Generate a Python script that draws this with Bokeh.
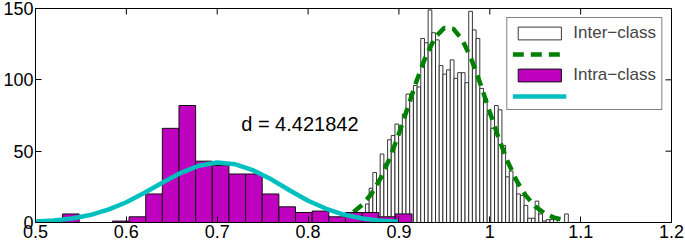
import math
from bokeh.plotting import figure
from bokeh.models import Range1d, FixedTicker, Legend, LegendItem, Label
from bokeh.embed import file_html
from bokeh.resources import INLINE

# ---- data ----
# Inter-class histogram (narrow bins)
inter_start = 0.8469
inter_width = 0.00406
inter_counts = [0, 1, 3, 6, 13, 24, 35, 28, 48, 41,
                58, 61, 69, 66, 76, 90, 90, 96, 95, 129,
                126, 149, 133, 128, 110, 104, 107, 114, 101, 105,
                105, 98, 148, 135, 129, 94, 87, 76, 66, 82,
                79, 54, 32, 36, 30, 20, 19, 12, 3, 3,
                15, 6, 1, 2, 2, 2, 0, 0, 6]

# Intra-class histogram (wide bins)
intra_start = 0.5297
intra_width = 0.01832
intra_counts = [6, 0, 0, 1, 4, 20, 66, 82, 43, 40,
                34, 34, 20, 11, 7, 8, 4, 7, 7, 4, 6]

# Fitted curves
inter_fit_x = [0.85, 0.86, 0.87, 0.88, 0.89, 0.90, 0.91, 0.92, 0.93, 0.94,
               0.95, 0.96, 0.97, 0.98, 0.99, 1.00, 1.01, 1.02, 1.03, 1.04,
               1.05, 1.06, 1.07, 1.08]
inter_fit_y = [7.4, 12.6, 20.3, 31.2, 45.3, 62.3, 81.2, 100.2, 117.2, 129.9,
               136.4, 135.7, 127.8, 114.1, 96.5, 77.3, 58.7, 42.2, 28.7, 18.5,
               11.3, 6.6, 3.6, 1.9]

intra_fit_x = [0.50, 0.52, 0.54, 0.56, 0.58, 0.60, 0.62, 0.64, 0.66, 0.68,
               0.70, 0.72, 0.74, 0.76, 0.78, 0.80, 0.82, 0.84, 0.86, 0.88,
               0.90]
intra_fit_y = [0.7, 1.4, 2.8, 5.2, 9.0, 14.2, 20.8, 28.0, 34.8, 39.8,
               42.0, 40.8, 36.5, 30.1, 22.4, 15.2, 9.6, 5.4, 2.8, 1.3,
               0.6]

x_ticks = [0.5, 0.6, 0.7, 0.8, 0.9, 1.0, 1.1, 1.2]
x_tick_labels = ["0.5", "0.6", "0.7", "0.8", "0.9", "1", "1.1", "1.2"]
y_ticks = [0, 50, 100, 150]
series_names = ["Inter\u2212class", "Intra\u2212class"]
annotation_text = "d = 4.421842"
annotation_x = 0.7264
annotation_y = 69

FONT = "Liberation Sans"
X_MIN, X_MAX = 0.5, 1.2
Y_MIN, Y_MAX = 0, 150

inter_left = [inter_start + i * inter_width for i in range(len(inter_counts))]
inter_right = [l + inter_width for l in inter_left]
intra_left = [intra_start + i * intra_width for i in range(len(intra_counts))]
intra_right = [l + intra_width for l in intra_left]

p = figure(width=685, height=245, x_range=Range1d(X_MIN, X_MAX), y_range=Range1d(Y_MIN, Y_MAX),
           output_backend="svg", toolbar_location=None,
           min_border_left=34, min_border_right=14, min_border_top=8, min_border_bottom=23)
p.xgrid.visible = False
p.ygrid.visible = False
p.outline_line_color = "black"
p.outline_line_width = 1
p.background_fill_color = "white"
p.border_fill_color = "white"

r_inter = p.quad(left=inter_left, right=inter_right, top=inter_counts, bottom=0,
                 fill_color="white", line_color="#222222", line_width=0.9)
r_green = p.line(inter_fit_x, inter_fit_y, line_color="#008000", line_width=4.5,
                 line_dash="11 7")
r_intra = p.quad(left=intra_left, right=intra_right, top=intra_counts, bottom=0,
                 fill_color="#BF00BF", line_color="#111111", line_width=1)
r_cyan = p.line(intra_fit_x, intra_fit_y, line_color="#00BFBF", line_width=4.5)

# inward tick marks on the top and right edges of the box (Matlab "box on")
p.scatter(x=x_ticks, y=[Y_MAX] * len(x_ticks), marker="dash", angle=math.pi / 2,
          size=12, line_color="black", line_width=1)
p.scatter(x=[X_MAX] * len(y_ticks), y=y_ticks, marker="dash",
          size=12, line_color="black", line_width=1)

p.add_layout(Label(x=annotation_x, y=annotation_y, text=annotation_text,
                   text_font=FONT, text_font_size="20px", text_baseline="middle",
                   text_align="left", text_color="black"))

for ax, ticks in ((p.xaxis[0], x_ticks), (p.yaxis[0], y_ticks)):
    ax.ticker = FixedTicker(ticks=ticks)
    ax.major_tick_in = 6
    ax.major_tick_out = 0
    ax.minor_tick_in = 0
    ax.minor_tick_out = 0
    ax.major_tick_line_color = "black"
    ax.axis_line_color = "black"
    ax.major_label_text_font = FONT
    ax.major_label_text_color = "black"
    ax.major_label_text_font_size = "18px"

p.xaxis[0].major_label_overrides = {t: s for t, s in zip(x_ticks, x_tick_labels)}
p.xaxis[0].major_label_standoff = 2
p.yaxis[0].major_label_standoff = 2

legend = Legend(items=[
    LegendItem(label=series_names[0], renderers=[r_inter]),
    LegendItem(label=" ", renderers=[r_green]),
    LegendItem(label=series_names[1], renderers=[r_intra]),
    LegendItem(label=" ", renderers=[r_cyan]),
], location="top_right")
legend.margin = 9
legend.padding = 5
legend.spacing = 3
legend.glyph_width = 54
legend.glyph_height = 16
legend.label_standoff = 7
legend.label_text_font = FONT
legend.label_text_font_size = "17px"
legend.border_line_color = "black"
legend.border_line_width = 1
legend.background_fill_alpha = 1
p.add_layout(legend)

open("out.html", "w").write(file_html(p, INLINE))
